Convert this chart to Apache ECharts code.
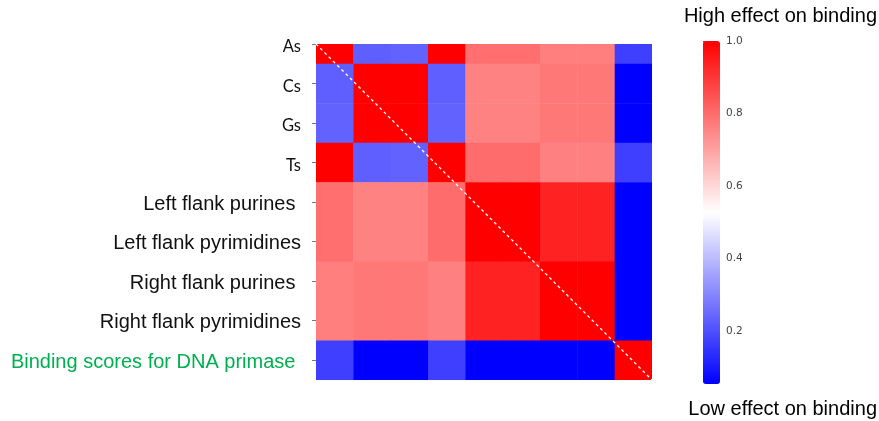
<!DOCTYPE html>
<html>
<head>
<meta charset="utf-8">
<script src="https://cdn.jsdelivr.net/npm/echarts@6/dist/echarts.min.js"></script>
<style>
  html, body { margin: 0; padding: 0; background: #fff; }
  #chart { width: 879px; height: 421px; }
</style>
</head>
<body>
<div id="chart"></div>
<script>
// row / column labels (same order on both axes)
const features = [
  "As", "Cs", "Gs", "Ts",
  "Left flank purines ", "Left flank pyrimidines",
  "Right flank purines ", "Right flank pyrimidines",
  "Binding scores for DNA primase "
];

// correlation values, one array per row
const rowAs = [1.0, 0.23, 0.235, 1.0, 0.795, 0.795, 0.765, 0.765, 0.17];
const rowCs = [0.23, 1.0, 1.0, 0.23, 0.758, 0.758, 0.778, 0.778, 0.054];
const rowGs = [0.235, 1.0, 1.0, 0.235, 0.758, 0.758, 0.778, 0.778, 0.054];
const rowTs = [1.0, 0.23, 0.235, 1.0, 0.8, 0.8, 0.762, 0.762, 0.17];
const rowLeftPur = [0.795, 0.758, 0.758, 0.8, 1.0, 1.0, 0.937, 0.937, 0.054];
const rowLeftPyr = [0.795, 0.758, 0.758, 0.8, 1.0, 1.0, 0.937, 0.937, 0.054];
const rowRightPur = [0.765, 0.778, 0.778, 0.762, 0.937, 0.937, 1.0, 1.0, 0.054];
const rowRightPyr = [0.765, 0.778, 0.778, 0.762, 0.937, 0.937, 1.0, 1.0, 0.054];
const rowBinding = [0.17, 0.054, 0.054, 0.17, 0.054, 0.054, 0.054, 0.054, 1.0];

const rows = [rowAs, rowCs, rowGs, rowTs, rowLeftPur, rowLeftPyr, rowRightPur, rowRightPyr, rowBinding];

// colour bar
const scaleMin = 0.054;
const scaleMax = 1.0;
const colorbarTicks = [0.2, 0.4, 0.6, 0.8, 1.0];

const cells = [];
rows.forEach((row, i) => {
  row.forEach((v, j) => cells.push([j, i, v]));
});

const labelPos = features.map((_, i) => i + 0.5);

function labelStyle(i) {
  if (i < 4) return "base";
  if (i === 8) return "green";
  return "flank";
}

const chart = echarts.init(document.getElementById("chart"));

const titleFont = { fontFamily: "Liberation Sans", fontSize: 20, fontWeight: "normal", color: "#000" };

const option = {
  animation: false,
  backgroundColor: "#fff",
  title: [
    { text: "High effect on binding", right: 2, top: 6, padding: 0, textStyle: titleFont },
    { text: "Low effect on binding", right: 2, top: 399, padding: 0, textStyle: titleFont }
  ],
  grid: [
    { left: 316, top: 44, width: 336, height: 336 },
    { left: 703, top: 41, width: 17, height: 343 }
  ],
  xAxis: [
    { type: "value", gridIndex: 0, min: 0, max: 9, show: false },
    { type: "value", gridIndex: 1, min: 0, max: 1, show: false }
  ],
  yAxis: [
    {
      type: "value",
      gridIndex: 0,
      min: 0.5,
      max: 9,
      inverse: true,
      axisLine: { show: false },
      splitLine: { show: false },
      axisTick: {
        show: true,
        length: 4,
        customValues: labelPos,
        lineStyle: { color: "#777", width: 1 }
      },
      axisLabel: {
        margin: 15,
        customValues: labelPos,
        formatter: (v) => {
          const i = Math.floor(v);
          return "{" + labelStyle(i) + "|" + features[i] + "}";
        },
        rich: {
          base: { fontFamily: "Lato", fontSize: 16.5, color: "#111", padding: [6, 0, 0, 0] },
          flank: { fontFamily: "Liberation Sans", fontSize: 20, color: "#111", padding: [4, 0, 0, 0] },
          green: { fontFamily: "Liberation Sans", fontSize: 20, color: "#00b050", padding: [4, 0, 0, 0] }
        }
      }
    },
    {
      type: "value",
      gridIndex: 1,
      min: scaleMin,
      max: scaleMax,
      position: "right",
      axisLine: { show: false },
      splitLine: { show: false },
      axisTick: {
        show: true,
        length: 3,
        customValues: colorbarTicks,
        lineStyle: { color: "#555" }
      },
      axisLabel: {
        margin: 6,
        customValues: colorbarTicks,
        formatter: (v) => v.toFixed(1),
        fontFamily: "DejaVu Sans",
        fontSize: 10.5,
        color: "#444"
      }
    }
  ],
  visualMap: {
    type: "continuous",
    seriesIndex: 0,
    dimension: 2,
    min: scaleMin,
    max: scaleMax,
    calculable: false,
    orient: "vertical",
    left: 703,
    top: 41,
    padding: 0,
    itemWidth: 17,
    itemHeight: 343,
    text: null,
    inRange: { color: ["#0000ff", "#ffffff", "#ff0000"] }
  },
  series: [
    {
      type: "custom",
      xAxisIndex: 0,
      yAxisIndex: 0,
      data: cells,
      encode: { x: 0, y: 1 },
      renderItem: (params, api) => {
        const j = api.value(0);
        const i = api.value(1);
        const p0 = api.coord([j, i]);
        const p1 = api.coord([j + 1, i + 1]);
        const rect = echarts.graphic.clipRectByRect(
          { x: p0[0], y: p0[1], width: p1[0] - p0[0] + 0.5, height: p1[1] - p0[1] + 0.5 },
          params.coordSys
        );
        if (!rect) return;
        return {
          type: "rect",
          shape: rect,
          style: { fill: api.visual("color") }
        };
      }
    },
    {
      type: "line",
      xAxisIndex: 0,
      yAxisIndex: 0,
      symbol: "none",
      silent: true,
      z: 5,
      data: [[0, 0.5], [9, 9]],
      lineStyle: { color: "#ffffff", width: 1.3, type: [3, 3] }
    }
  ]
};

chart.setOption(option);
</script>
</body>
</html>
